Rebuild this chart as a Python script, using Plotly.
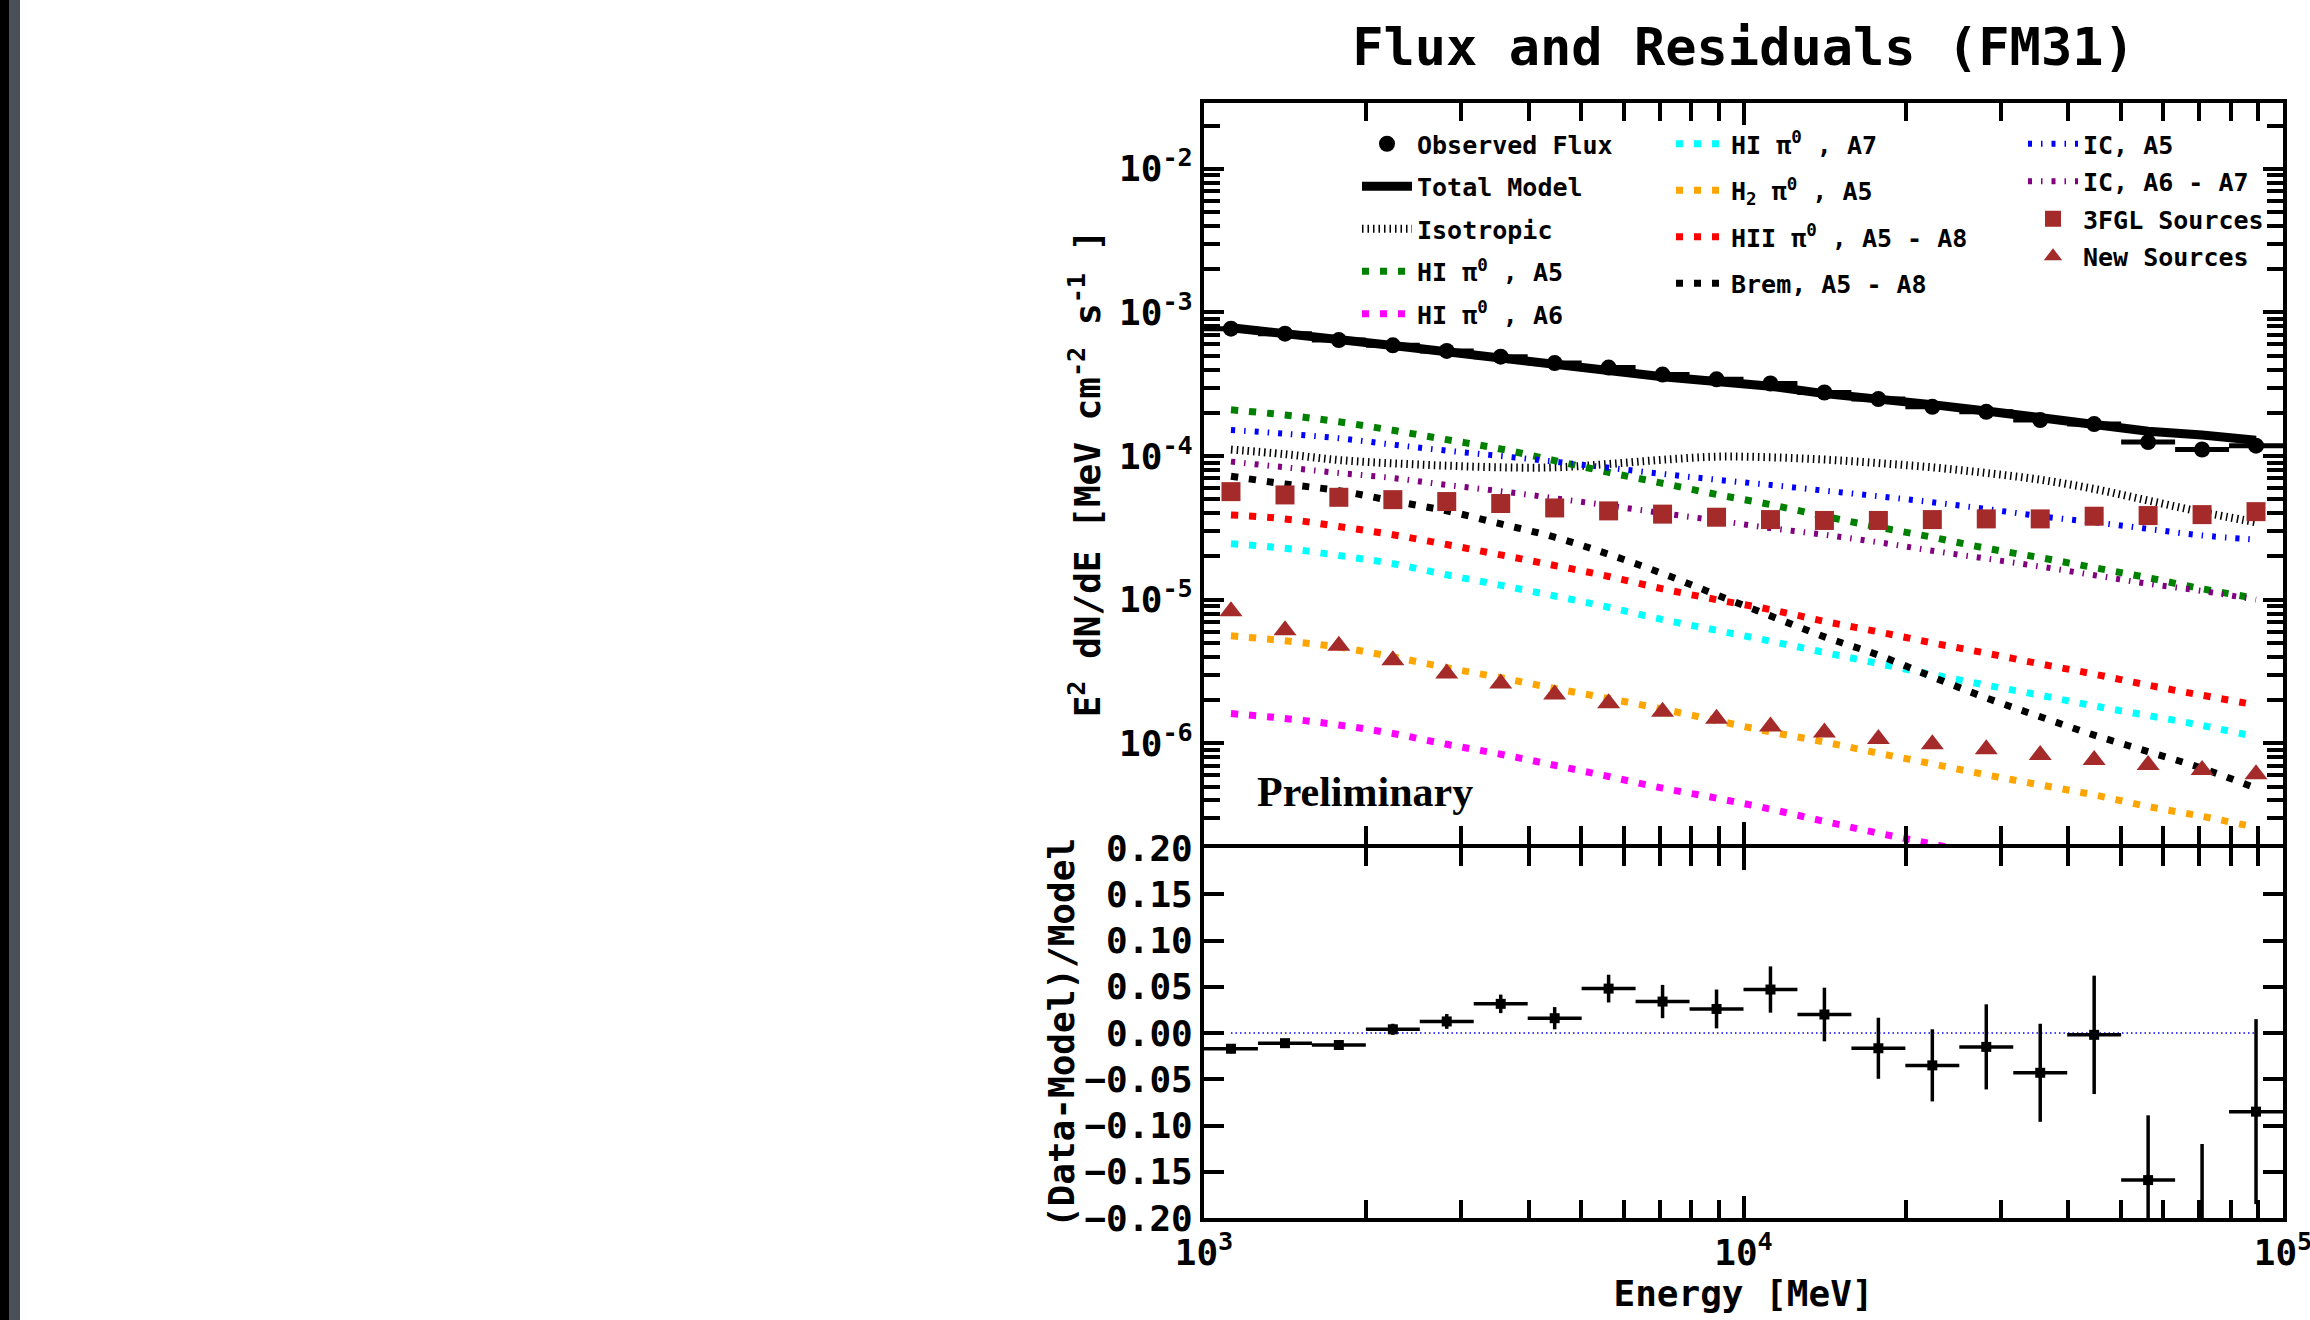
import numpy as np
import plotly.graph_objects as go

# ---------------- data ----------------
energy = [1122, 1413, 1778, 2239, 2818, 3548, 4467, 5623, 7079, 8913,
          11220, 14125, 17783, 22387, 28184, 35481, 44668, 56234, 70795, 89125]

observed_flux = [7.70e-4, 7.11e-4, 6.42e-4, 5.90e-4, 5.39e-4, 4.92e-4, 4.44e-4, 4.13e-4, 3.69e-4, 3.42e-4,
                 3.20e-4, 2.77e-4, 2.49e-4, 2.20e-4, 2.03e-4, 1.78e-4, 1.67e-4, 1.25e-4, 1.11e-4, 1.18e-4]
total_model = [7.83e-4, 7.19e-4, 6.50e-4, 5.88e-4, 5.32e-4, 4.77e-4, 4.37e-4, 3.94e-4, 3.57e-4, 3.33e-4,
               3.06e-4, 2.72e-4, 2.53e-4, 2.28e-4, 2.06e-4, 1.86e-4, 1.67e-4, 1.49e-4, 1.40e-4, 1.29e-4]
isotropic = [1.11e-4, 1.03e-4, 9.38e-5, 8.89e-5, 8.57e-5, 8.34e-5, 8.34e-5, 8.80e-5, 9.42e-5, 9.90e-5,
             9.80e-5, 9.45e-5, 8.93e-5, 8.34e-5, 7.62e-5, 6.84e-5, 5.90e-5, 4.90e-5, 4.07e-5, 3.46e-5]
hi_a5 = [2.10e-4, 1.93e-4, 1.73e-4, 1.51e-4, 1.30e-4, 1.12e-4, 9.30e-5, 7.70e-5, 6.46e-5, 5.40e-5,
         4.59e-5, 3.81e-5, 3.20e-5, 2.72e-5, 2.28e-5, 1.96e-5, 1.67e-5, 1.42e-5, 1.19e-5, 1.02e-5]
hi_a6 = [1.61e-6, 1.49e-6, 1.34e-6, 1.17e-6, 9.84e-7, 8.39e-7, 7.03e-7, 5.87e-7, 4.87e-7, 4.15e-7,
         3.48e-7, 2.86e-7, 2.37e-7, 1.99e-7, 1.66e-7]
hi_a7 = [2.45e-5, 2.28e-5, 2.03e-5, 1.78e-5, 1.49e-5, 1.26e-5, 1.06e-5, 8.85e-6, 7.27e-6, 6.12e-6,
         5.14e-6, 4.29e-6, 3.59e-6, 3.01e-6, 2.54e-6, 2.16e-6, 1.82e-6, 1.56e-6, 1.33e-6, 1.11e-6]
h2_a5 = [5.60e-6, 5.17e-6, 4.67e-6, 4.00e-6, 3.36e-6, 2.86e-6, 2.41e-6, 2.05e-6, 1.73e-6, 1.44e-6,
         1.20e-6, 1.02e-6, 8.53e-7, 7.19e-7, 6.03e-7, 5.13e-7, 4.37e-7, 3.63e-7, 3.10e-7, 2.60e-7]
hii_a5_a8 = [3.89e-5, 3.65e-5, 3.23e-5, 2.83e-5, 2.42e-5, 2.05e-5, 1.73e-5, 1.45e-5, 1.19e-5, 1.00e-5,
             8.53e-6, 7.07e-6, 5.97e-6, 5.00e-6, 4.24e-6, 3.57e-6, 3.03e-6, 2.54e-6, 2.16e-6, 1.85e-6]
brem_a5_a8 = [7.23e-5, 6.39e-5, 5.74e-5, 4.87e-5, 4.15e-5, 3.37e-5, 2.72e-5, 2.07e-5, 1.52e-5, 1.08e-5,
              7.71e-6, 5.51e-6, 4.11e-6, 2.90e-6, 2.07e-6, 1.53e-6, 1.14e-6, 8.75e-7, 6.70e-7, 4.87e-7]
ic_a5 = [1.52e-4, 1.43e-4, 1.33e-4, 1.20e-4, 1.09e-4, 1.00e-4, 9.14e-5, 8.29e-5, 7.50e-5, 6.84e-5,
         6.29e-5, 5.74e-5, 5.25e-5, 4.77e-5, 4.28e-5, 3.81e-5, 3.46e-5, 3.11e-5, 2.80e-5, 2.62e-5]
ic_a6_a7 = [9.14e-5, 8.34e-5, 7.62e-5, 7.03e-5, 6.29e-5, 5.69e-5, 5.08e-5, 4.52e-5, 4.00e-5, 3.56e-5,
            3.15e-5, 2.83e-5, 2.51e-5, 2.19e-5, 1.93e-5, 1.70e-5, 1.48e-5, 1.29e-5, 1.15e-5, 1.00e-5]
fgl3_sources = [5.65e-5, 5.36e-5, 5.16e-5, 4.97e-5, 4.82e-5, 4.67e-5, 4.35e-5, 4.15e-5, 3.94e-5, 3.75e-5,
                3.61e-5, 3.56e-5, 3.56e-5, 3.61e-5, 3.65e-5, 3.65e-5, 3.81e-5, 3.85e-5, 3.91e-5, 4.10e-5]
new_sources = [8.30e-6, 6.12e-6, 4.77e-6, 3.79e-6, 3.06e-6, 2.61e-6, 2.19e-6, 1.90e-6, 1.66e-6, 1.48e-6,
               1.31e-6, 1.19e-6, 1.07e-6, 9.84e-7, 9.08e-7, 8.30e-7, 7.66e-7, 7.07e-7, 6.53e-7, 6.10e-7]

residual = [-0.017, -0.011, -0.013, 0.004, 0.0125, 0.0315, 0.016, 0.048, 0.034, 0.026,
            0.047, 0.020, -0.0165, -0.035, -0.015, -0.043, -0.002, -0.159, -0.210, -0.085]
residual_err = [0.005, 0.004, 0.004, 0.006, 0.008, 0.010, 0.012, 0.015, 0.018, 0.021,
                0.025, 0.029, 0.033, 0.039, 0.046, 0.053, 0.064, 0.070, 0.090, 0.100]

x_tick_vals = [1e3, 1e4, 1e5]
x_tick_text = ["10<sup>3</sup>", "10<sup>4</sup>", "10<sup>5</sup>"]
y_tick_vals = [1e-6, 1e-5, 1e-4, 1e-3, 1e-2]
y_tick_text = ["10<sup>-6</sup>", "10<sup>-5</sup>", "10<sup>-4</sup>", "10<sup>-3</sup>", "10<sup>-2</sup>"]
r_tick_vals = [-0.20, -0.15, -0.10, -0.05, 0.00, 0.05, 0.10, 0.15, 0.20]
r_tick_text = ["\u22120.20", "\u22120.15", "\u22120.10", "\u22120.05", "0.00", "0.05", "0.10", "0.15", "0.20"]

# ---------------- geometry helpers ----------------
W, H = 2310, 1320
L, R, T, B = 1204, 27, 103, 102
PW, PH = W - L - R, H - T - B
split = 846  # pixel y of boundary between panels


def px_x(X):
    return (X - L) / PW


def px_y(Y):
    return (H - B - Y) / PH


e = np.array(energy, dtype=float)
le = np.log10(e)
err_plus = 10 ** (le + 0.05) - e
err_minus = e - 10 ** (le - 0.05)

MONO = "DejaVu Sans Mono"
fig = go.Figure()

dotted = "7px,11px"
ic_dash = "4px,9px,1.5px,9px"

# component curves (legend item order via legendrank)
comp = [
    ("Isotropic", isotropic, "black", "1.5px,4px", 8, "legend", 3),
    ("HI \u03c0<sup>0</sup> , A5", hi_a5, "green", dotted, 7, "legend", 4),
    ("HI \u03c0<sup>0</sup> , A6", hi_a6, "magenta", dotted, 7, "legend", 5),
    ("HI \u03c0<sup>0</sup> , A7", hi_a7, "cyan", dotted, 7, "legend2", 1),
    ("H<sub>2</sub> \u03c0<sup>0</sup> , A5", h2_a5, "orange", dotted, 7, "legend2", 2),
    ("HII \u03c0<sup>0</sup> , A5 - A8", hii_a5_a8, "red", dotted, 7, "legend2", 3),
    ("Brem, A5 - A8", brem_a5_a8, "black", dotted, 7, "legend2", 4),
    ("IC, A5", ic_a5, "blue", ic_dash, 6, "legend3", 1),
    ("IC, A6 - A7", ic_a6_a7, "purple", ic_dash, 6, "legend3", 2),
]
for i, (name, vals, col, dash, w, leg, rank) in enumerate(comp):
    fig.add_trace(go.Scatter(
        x=energy[:len(vals)], y=vals, mode="lines", name=name,
        line=dict(color=col, width=w, dash=dash, shape="spline"),
        legend=leg, legendrank=rank, legendgroup="c%d" % i,
        xaxis="x", yaxis="y"))

fig.add_trace(go.Scatter(
    x=energy, y=fgl3_sources, mode="markers", name="3FGL Sources",
    marker=dict(symbol="square", size=19, color="brown"),
    legend="legend3", legendrank=3, legendgroup="s1", xaxis="x", yaxis="y"))
fig.add_trace(go.Scatter(
    x=energy, y=new_sources, mode="markers", name="New Sources",
    marker=dict(symbol="triangle-up", size=20, color="brown"),
    legend="legend3", legendrank=4, legendgroup="s2", xaxis="x", yaxis="y"))

fig.add_trace(go.Scatter(
    x=energy, y=total_model, mode="lines", name="Total Model",
    line=dict(color="black", width=9),
    legend="legend", legendrank=2, legendgroup="tm", xaxis="x", yaxis="y"))
fig.add_trace(go.Scatter(
    x=energy, y=observed_flux, mode="markers", name="Observed Flux",
    marker=dict(symbol="circle", size=16, color="black"),
    error_x=dict(type="data", array=err_plus, arrayminus=err_minus, symmetric=False,
                 thickness=5, width=0, color="black"),
    legend="legend", legendrank=1, legendgroup="of", xaxis="x", yaxis="y"))

# residual panel
fig.add_trace(go.Scatter(
    x=[energy[0], energy[-1]], y=[0, 0], mode="lines", showlegend=False,
    line=dict(color="blue", width=1.5, dash="1.5px,3px"), xaxis="x2", yaxis="y2"))
fig.add_trace(go.Scatter(
    x=energy, y=residual, mode="markers", showlegend=False,
    marker=dict(symbol="square", size=10, color="black"),
    error_x=dict(type="data", array=err_plus, arrayminus=err_minus, symmetric=False,
                 thickness=3.5, width=0, color="black"),
    error_y=dict(type="data", array=residual_err, thickness=3.5, width=0, color="black"),
    cliponaxis=True, xaxis="x2", yaxis="y2"))

tick_font = dict(family=MONO, size=36, color="black", weight="bold")
minor_x = [k * 10 ** p for p in range(3, 5) for k in range(2, 10)]
minor_y = [k * 10 ** p for p in range(-7, -1) for k in range(2, 10)]
# main panel bottom edge and residual top edge overlap so both axis lines coincide
main_bottom = px_y(split - 2)
resid_top = px_y(split + 2)

axis_common = dict(showline=True, linecolor="black", linewidth=4, mirror="ticks",
                   ticks="inside", tickcolor="black", tickwidth=3.5, showgrid=False,
                   zeroline=False)
legend_font = dict(family=MONO, size=25, color="black", weight="bold")
legend_top = px_y(121)


def legend_box(X, gap):
    return dict(x=px_x(X), y=legend_top, xanchor="left", yanchor="top", itemwidth=50,
                bgcolor="rgba(0,0,0,0)", borderwidth=0, traceorder="grouped",
                tracegroupgap=gap, font=legend_font)


fig.update_layout(
    width=W, height=H, autosize=False,
    margin=dict(l=L, r=R, t=T, b=B, pad=0, autoexpand=False),
    paper_bgcolor="white", plot_bgcolor="white",
    title=dict(text="Flux and Residuals (FM31)", x=0.5, xref="paper", xanchor="center",
               y=1 - 47 / H, yref="container", yanchor="middle",
               font=dict(family=MONO, size=52, color="black", weight="bold")),
    xaxis=dict(type="log", range=[3, 5], anchor="y", domain=[0, 1],
               showticklabels=False, tickvals=x_tick_vals, ticklen=22,
               minor=dict(tickvals=minor_x, ticklen=18, tickwidth=3.5, tickcolor="black", ticks="inside"),
               **axis_common),
    yaxis=dict(type="log", range=[np.log10(1.99e-7), np.log10(2.87e-2)], anchor="x",
               domain=[main_bottom, 1], tickvals=y_tick_vals, ticktext=y_tick_text, ticklen=20,
               tickfont=tick_font,
               minor=dict(tickvals=minor_y, ticklen=16, tickwidth=3.5, tickcolor="black", ticks="inside"),
               title=dict(text="E<sup>2</sup> dN/dE [MeV cm<sup>-2</sup> s<sup>-1</sup> ]",
                          font=dict(family=MONO, size=36, color="black", weight="bold"), standoff=8),
               **axis_common),
    xaxis2=dict(type="log", range=[3, 5], anchor="y2", domain=[0, 1], matches="x",
                tickvals=x_tick_vals, ticktext=x_tick_text, ticklen=22, tickfont=tick_font,
                ticklabeloverflow="allow",
                minor=dict(tickvals=minor_x, ticklen=18, tickwidth=3.5, tickcolor="black", ticks="inside"),
                title=dict(text="Energy [MeV]", font=dict(family=MONO, size=36, color="black", weight="bold"),
                           standoff=6),
                **axis_common),
    yaxis2=dict(range=[-0.2, 0.2], anchor="x2", domain=[0, resid_top],
                tickvals=r_tick_vals, ticktext=r_tick_text, ticklen=20, tickfont=tick_font,
                title=dict(text="(Data-Model)/Model", font=dict(family=MONO, size=36, color="black", weight="bold"),
                           standoff=0),
                **axis_common),
    legend=legend_box(1357, 7),
    legend2=legend_box(1671, 11),
    legend3=legend_box(2023, 2),
    annotations=[dict(text="Preliminary", xref="paper", yref="paper", x=px_x(1255), y=px_y(792),
                      xanchor="left", yanchor="middle", showarrow=False,
                      font=dict(family="Liberation Serif", size=42, color="black", weight="bold"))],
    shapes=[
        dict(type="rect", xref="paper", yref="paper", x0=px_x(0), x1=px_x(9), y0=px_y(H + 5), y1=px_y(-5),
             fillcolor="black", line=dict(width=0), layer="above"),
        dict(type="rect", xref="paper", yref="paper", x0=px_x(9), x1=px_x(20), y0=px_y(H + 5), y1=px_y(-5),
             fillcolor="#4b4f58", line=dict(width=0), layer="above"),
    ],
)

fig.write_html("out.html")
